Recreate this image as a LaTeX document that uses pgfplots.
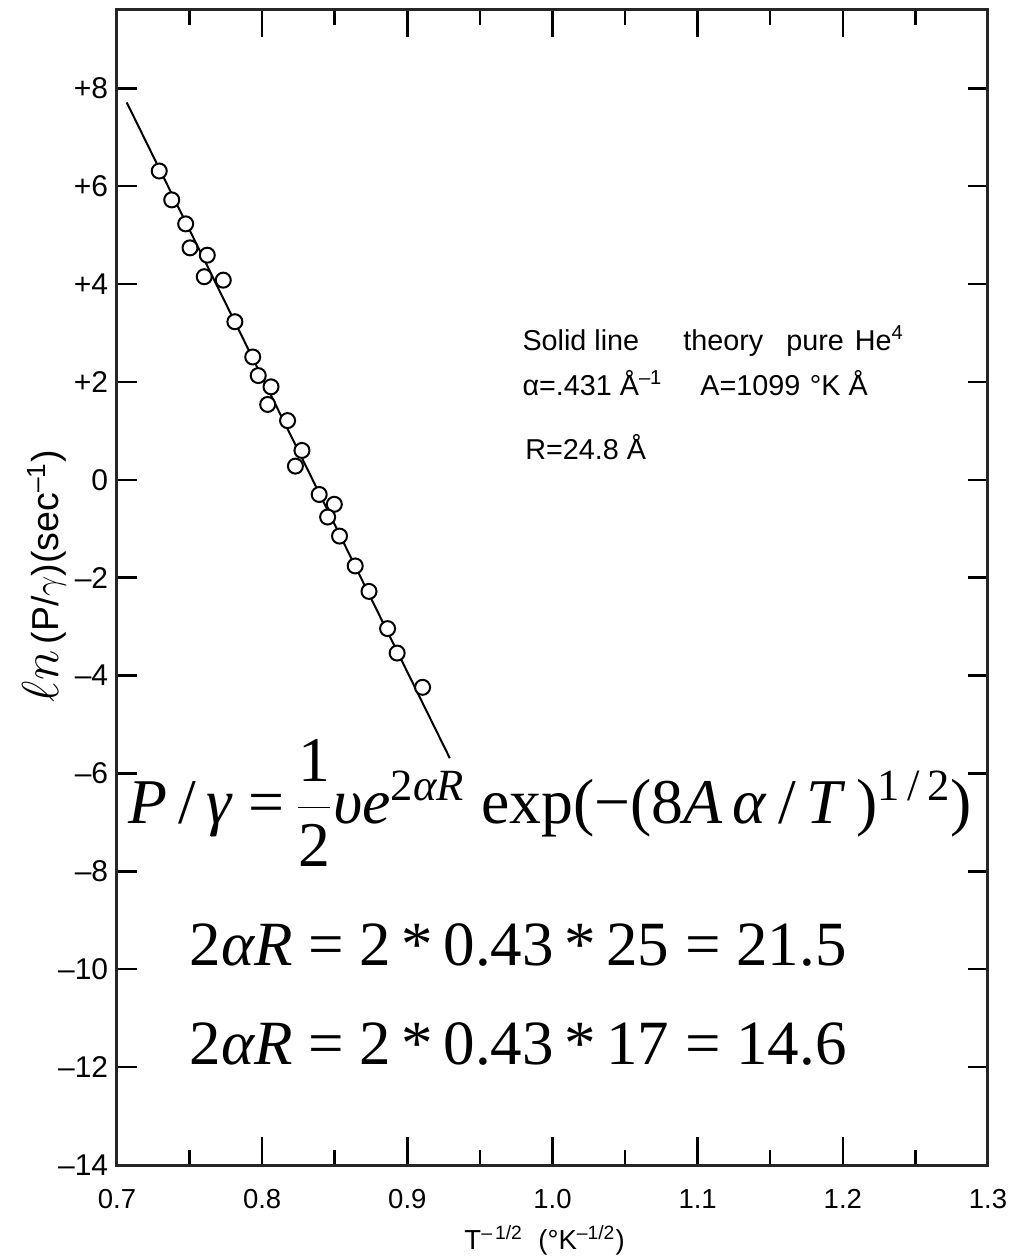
\documentclass[border=0pt]{standalone}
\usepackage{pgfplots}
\pgfplotsset{compat=1.18}
\usepackage{fontspec}
\setmainfont{Liberation Sans}
\newfontfamily\tms{Liberation Serif}

% measured hopping rates, ln(P/gamma) against T^{-1/2}
\pgfplotstableread{
x       y
0.7291  6.31
0.7377  5.72
0.7473  5.23
0.7503  4.74
0.7622  4.59
0.7601  4.15
0.7732  4.08
0.7812  3.23
0.7935  2.51
0.7973  2.13
0.8061  1.90
0.8038  1.54
0.8175  1.21
0.8274  0.60
0.8229  0.28
0.8393 -0.30
0.8497 -0.50
0.8451 -0.76
0.8533 -1.15
0.8641 -1.76
0.8736 -2.28
0.8864 -3.04
0.8930 -3.54
0.9105 -4.24
}\rates

\begin{document}
\begin{tikzpicture}
\useasboundingbox (0,0) rectangle (408.4pt,503.2pt);
\pgfplotsset{
  frame/.style={
    at={(46.8pt,37.2pt)}, anchor=south west,
    scale only axis, width=348.4pt, height=462pt,
    xmin=0.7, xmax=1.3, ymin=-14, ymax=9.6,
    axis line style={line width=1.2pt, black!85},
    tick style={line width=1pt, black},
    tick align=inside, clip=false,
  }
}
% y ticks on both sides, with their labels
\begin{axis}[frame,
  xtick=\empty,
  ytick={-14,-12,-10,-8,-6,-4,-2,0,2,4,6,8},
  yticklabels={--14,--12,--10,--8,--6,--4,--2,0,+2,+4,+6,+8},
  major tick length=8pt,
  yticklabel style={font=\fontsize{12}{13}\selectfont},
]
\end{axis}

\begin{axis}[frame,
  ytick=\empty,
  xtick={0.7,0.8,0.9,1.0,1.1,1.2,1.3},
  xticklabels={0.7,0.8,0.9,1.0,1.1,1.2,1.3},
  minor xtick={0.75,0.85,0.95,1.05,1.15,1.25},
  major tick length=11pt, minor tick length=6pt,
  xticklabel style={font=\fontsize{11}{12}\selectfont, text height=8pt, text depth=0pt, yshift=-6pt},
  xlabel={T\textsuperscript{--\,1/2}\ \ (°K\textsuperscript{--1/2})},
  xlabel style={font=\fontsize{11}{12}\selectfont, at={(axis description cs:0.491,-0.065)}, anchor=center},
  ylabel={{\fontsize{22}{22}\selectfont$\ell n$}\,(P/$\gamma$)(sec\textsuperscript{--1})},
  ylabel style={font=\fontsize{15}{16}\selectfont, at={(axis description cs:-0.083,0.51)}, anchor=center},
]
% theory line for pure He^4
\addplot[black, line width=0.8pt] coordinates {(0.7067,7.71) (0.9293,-5.69)};
\addplot[only marks, mark=*, mark size=3pt,
  mark options={fill=white, draw=black, line width=0.8pt}] table[x=x, y=y] {\rates};

% parameter notes
\begin{scope}[every node/.style={anchor=base west, inner sep=0pt, font=\fontsize{11.5}{14}\selectfont}]
\node at (axis cs:0.979,2.64) {Solid line};
\node at (axis cs:1.0898,2.64) {theory};
\node at (axis cs:1.1607,2.64) {pure};
\node at (axis cs:1.2080,2.64) {He\textsuperscript{4}};
\node at (axis cs:0.979,1.73) {α=.431 Å\textsuperscript{--1}};
\node at (axis cs:1.1015,1.73) {A=1099};
\node at (axis cs:1.1770,1.73) {°K Å};
\node at (axis cs:0.981,0.41) {R=24.8 Å};
\end{scope}

% hopping-rate formula and estimates
\node[anchor=base west, inner sep=0pt, font=\tms\fontsize{25.5}{30}\selectfont] at (axis cs:0.7076,-7.02) {\textit{P}\,/\,\textit{γ} =\,$\displaystyle\frac{\mbox{1}}{\mbox{2}}$\textit{υe}\textsuperscript{2\textit{αR}} exp(−(8\textit{A\,α}\,/\,\textit{T}\,)\textsuperscript{1\,/\,2})};
\begin{scope}[every node/.style={anchor=base west, inner sep=0pt, font=\tms\fontsize{25.2}{30}\selectfont}]
\node at (axis cs:0.7496,-9.93) {2\textit{αR} = 2\,*\,0.43\,*\,25 = 21.5};
\node at (axis cs:0.7496,-11.94) {2\textit{αR} = 2\,*\,0.43\,*\,17 = 14.6};
\end{scope}
\end{axis}
\end{tikzpicture}
\end{document}
